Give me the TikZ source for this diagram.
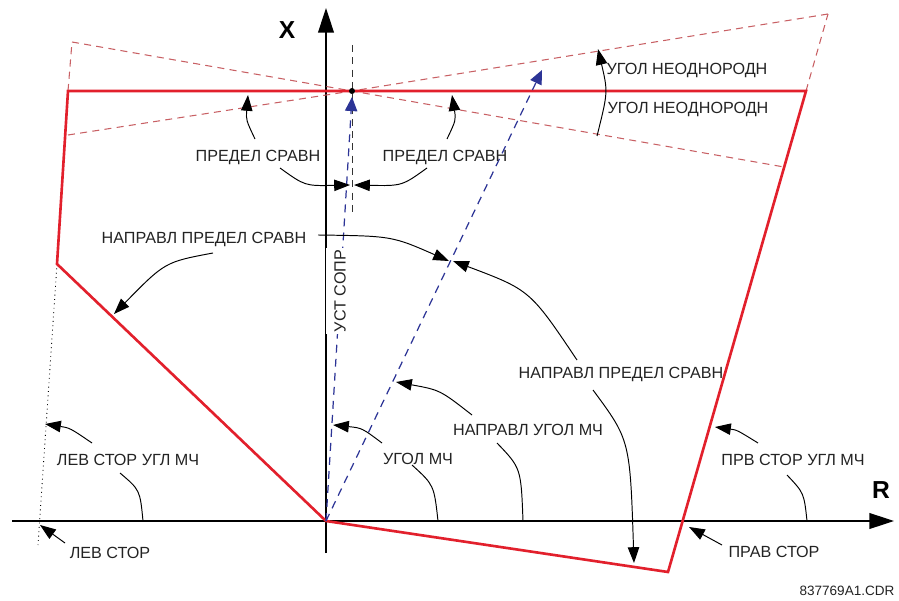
\documentclass[tikz,border=0pt]{standalone}
\usepackage{fontspec}
\setmainfont{Liberation Sans}
\usetikzlibrary{arrows.meta}
\definecolor{zred}{RGB}{226,32,44}
\definecolor{zdash}{RGB}{200,96,100}
\definecolor{zblue}{RGB}{44,52,150}
\definecolor{ztext}{RGB}{35,35,35}
\tikzset{
  zone/.style={draw=zred,line width=1.5pt,line join=miter},
  zonedash/.style={draw=zdash,line width=.6pt,dash pattern=on 4pt off 3pt},
  mtadash/.style={draw=zblue,line width=.7pt,dash pattern=on 4.5pt off 3.5pt,-{Triangle[length=8pt,width=7pt]}},
  axis/.style={line width=.7pt,-{Triangle[length=14pt,width=9pt]}},
  callout/.style={line width=.55pt,-{Triangle[length=9pt,width=6.5pt]}},
  callline/.style={line width=.55pt},
  lbl/.style={text=ztext,inner sep=1pt,font=\fontsize{9.2}{11}\selectfont},
  axlbl/.style={font=\bfseries\fontsize{14}{14}\selectfont},
}
\begin{document}
\begin{tikzpicture}[x=.02cm,y=-.02cm]
    \useasboundingbox (0,0) rectangle (899,601);
    % characteristic corners
    \coordinate (O) at (326,521); \coordinate (BR) at (668,572);
    \coordinate (TR) at (806,91); \coordinate (TL) at (68,91);
    \coordinate (LK) at (57,264); \coordinate (P) at (352,91);
    \coordinate (dTL) at (72,42); \coordinate (dTR) at (828,14);
    \coordinate (dLL) at (68,135); \coordinate (dLR) at (784,167);
    \coordinate (lsEnd) at (38,545);
    % axes
    \coordinate (xlo) at (326,553); \coordinate (xhi) at (326,8);
    \coordinate (rlo) at (12,521); \coordinate (rhi) at (894,521);
    \draw[axis] (xlo)--(xhi);
    \draw[axis] (rlo)--(rhi);
    \node[axlbl] (xl) at (287,30) {X};
    \node[axlbl] (rl) at (881,490) {R};
    % dashed limits
    \draw[zonedash] (dTL)--(P)--(dLR);
    \draw[zonedash] (dLL)--(P)--(dTR);
    \draw[zonedash] (TL)--(dTL);
    \draw[zonedash] (TR)--(dTR);
    \draw[line width=.5pt,dotted] (LK)--(lsEnd);
    \coordinate (vd1) at (352,45); \coordinate (vd2) at (352,217);
    \draw[line width=.5pt,black!80,dash pattern=on 4pt off 3pt] (vd1)--(vd2);
    % characteristic
    \draw[zone] (O)--(BR)--(TR)--(TL)--(LK)--cycle;
    \coordinate (mta1) at (352,97); \coordinate (mta2) at (542,70);
    \draw[mtadash] (O)--(mta1);
    \draw[mtadash] (O)--(mta2);
    \fill (P) circle (3);
    \node[lbl,fill=white,rotate=90,inner xsep=1pt,inner ysep=4.5pt] (reach) at (340,291) {УСТ СОПР};
    % labels
    \node[lbl] (pcL) at (258,157) {ПРЕДЕЛ СРАВН};
    \node[lbl] (pcR) at (445,157) {ПРЕДЕЛ СРАВН};
    \node[lbl] (inh1) at (687,70) {УГОЛ НЕОДНОРОДН};
    \node[lbl] (inh2) at (688,109) {УГОЛ НЕОДНОРОДН};
    \node[lbl] (dcL) at (204,239) {НАПРАВЛ ПРЕДЕЛ СРАВН};
    \node[lbl] (dcR) at (621,374) {НАПРАВЛ ПРЕДЕЛ СРАВН};
    \node[lbl] (dmta) at (528,430) {НАПРАВЛ УГОЛ МЧ};
    \node[lbl] (mta) at (418,459) {УГОЛ МЧ};
    \node[lbl] (lbm) at (128,460) {ЛЕВ СТОР УГЛ МЧ};
    \node[lbl] (lb) at (110,553) {ЛЕВ СТОР};
    \node[lbl] (rbm) at (793,460) {ПРВ СТОР УГЛ МЧ};
    \node[lbl] (rb) at (774,552) {ПРАВ СТОР};
    \node[text=ztext,font=\fontsize{7.7}{9}\selectfont,inner sep=1pt] (fig) at (847,591) {837769A1.CDR};
    % callouts
    \coordinate (pcL1) at (255,139); \coordinate (pcL2) at (248,95);
    \coordinate (pcL3) at (280,168); \coordinate (pcL4) at (350,185);
    \draw[callout] (pcL1) .. controls (246,120) .. (pcL2);
    \draw[callout] (pcL3) .. controls (305,186) .. (pcL4);
    \coordinate (pcR1) at (447,139); \coordinate (pcR2) at (452,95);
    \coordinate (pcR3) at (427,168); \coordinate (pcR4) at (354,185);
    \draw[callout] (pcR1) .. controls (456,120) .. (pcR2);
    \draw[callout] (pcR3) .. controls (402,186) .. (pcR4);
    \coordinate (inhA) at (598,49); \coordinate (inhB) at (597,136);
    \draw[callout,{Triangle[length=9pt,width=6.5pt]}-] (inhA) .. controls (608,92) .. (inhB);
    \coordinate (dcL1) at (213,253); \coordinate (dcL2) at (114,314);
    \draw[callout] (dcL1) .. controls (165,262) .. (dcL2);
    \coordinate (dc1) at (318,235); \coordinate (dc2) at (449,261);
    \draw[callout] (dc1) .. controls (392,236) .. (dc2);
    \coordinate (dc3) at (577,360); \coordinate (dc4) at (453,261);
    \draw[callout] (dc3) .. controls (530,290) .. (dc4);
    \coordinate (dc5) at (593,390); \coordinate (dc6) at (634,563);
    \draw[callout] (dc5) .. controls (630,440) .. (dc6);
    \coordinate (dm1) at (472,415); \coordinate (dm2) at (396,382);
    \coordinate (dm3) at (497,443); \coordinate (dm4) at (523,521);
    \draw[callout] (dm1) .. controls (440,390) .. (dm2);
    \draw[callline] (dm3) .. controls (521,468) .. (dm4);
    \coordinate (m1) at (382,443); \coordinate (m2) at (333,425);
    \coordinate (m3) at (412,465); \coordinate (m4) at (438,521);
    \draw[callout] (m1) .. controls (362,428) .. (m2);
    \draw[callline] (m3) .. controls (434,485) .. (m4);
    \coordinate (lbm1) at (92,443); \coordinate (lbm2) at (45,424);
    \coordinate (lbm3) at (120,473); \coordinate (lbm4) at (143,521);
    \draw[callout] (lbm1) .. controls (70,428) .. (lbm2);
    \draw[callline] (lbm3) .. controls (140,490) .. (lbm4);
    \coordinate (lb1) at (65,543); \coordinate (lb2) at (40,525);
    \draw[callout] (lb1)--(lb2);
    \coordinate (rbm1) at (758,443); \coordinate (rbm2) at (715,427);
    \coordinate (rbm3) at (787,475); \coordinate (rbm4) at (807,521);
    \draw[callout] (rbm1) .. controls (737,430) .. (rbm2);
    \draw[callline] (rbm3) .. controls (804,493) .. (rbm4);
    \coordinate (rb1) at (722,545); \coordinate (rb2) at (689,527);
    \draw[callout] (rb1)--(rb2);
  \end{tikzpicture}
\end{document}
